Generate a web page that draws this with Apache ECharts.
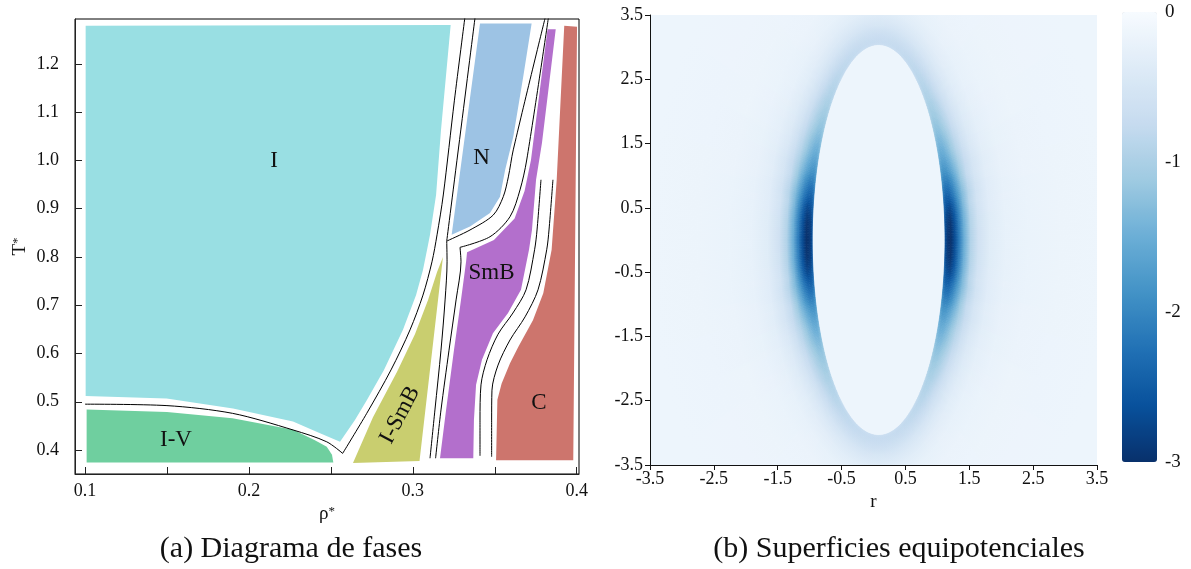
<!DOCTYPE html>
<html>
<head>
<meta charset="utf-8">
<script src="https://cdn.jsdelivr.net/npm/echarts@6/dist/echarts.min.js"></script>
<style>
html,body{margin:0;padding:0;background:#fff}
#chart{width:1191px;height:569px}
</style>
</head>
<body>
<div id="chart"></div>
<script>
// ---------------- (a) Phase diagram, outlines in (rho*, T*) ----------------
const phaseI = [[0.1004,1.279],[0.3231,1.281],[0.3172,1.063],[0.3142,0.9285],[0.3105,0.846],[0.3087,0.815],
  [0.3062,0.773],[0.302,0.721],[0.294,0.649],[0.2824,0.566],[0.2721,0.504],[0.2647,0.462],[0.2556,0.417],
  [0.2434,0.435],[0.2269,0.459],[0.1903,0.486],[0.1498,0.507],[0.1004,0.512]];
const phaseIV = [[0.101,0.484],[0.150,0.479],[0.190,0.466],[0.227,0.442],[0.240,0.421],[0.2475,0.407],
  [0.2507,0.390],[0.2515,0.374],[0.101,0.374]];
const phaseISmB = [[0.3184,0.800],[0.3041,0.377],[0.2635,0.373],[0.2757,0.468],[0.2904,0.562],[0.3013,0.640],
  [0.3093,0.711],[0.3148,0.769]];
const phaseN = [[0.341,1.284],[0.3725,1.284],[0.3674,1.174],[0.3613,1.049],[0.3563,0.980],[0.3532,0.925],
  [0.3471,0.891],[0.3349,0.863],[0.3237,0.846]];
const phaseSmB = [[0.3822,1.272],[0.3721,1.001],[0.3682,0.937],[0.3621,0.880],[0.3495,0.835],[0.3331,0.810],
  [0.3325,0.790],[0.3294,0.711],[0.3251,0.607],[0.3203,0.483],[0.3166,0.383],[0.3369,0.383],[0.3373,0.462],
  [0.3386,0.535],[0.3422,0.587],[0.3489,0.642],[0.3581,0.684],[0.3660,0.732],[0.3709,0.815],[0.3727,0.856],
  [0.3752,0.960],[0.3788,1.036],[0.3825,1.140],[0.3872,1.272]];
const phaseC = [[0.3924,1.279],[0.3878,0.960],[0.3847,0.815],[0.3796,0.725],[0.3733,0.669],[0.3644,0.614],
  [0.3593,0.580],[0.3542,0.538],[0.3516,0.504],[0.3508,0.379],[0.3979,0.379],[0.4002,1.277]];

const regionNames = ['I', 'I-V', 'I-SmB', 'N', 'SmB', 'C'];
const regionLabelAt = [[0.2153,1.0],[0.1555,0.421],[0.2922,0.4725],[0.342,1.005],[0.348,0.767],[0.377,0.497]];

// coexistence / transition lines
const lineIV = [[0.100,0.495],[0.150,0.492],[0.190,0.476],[0.227,0.4415],[0.2475,0.417],[0.2572,0.393]];
const lineIUpper = [[0.2572,0.393],[0.2719,0.476],[0.2867,0.566],[0.2983,0.649],[0.3062,0.721],[0.3117,0.790],
  [0.3148,0.846],[0.3186,0.9285],[0.3254,1.125],[0.3318,1.297]];
const lineNLeft = [[0.338,1.297],[0.3207,0.833]];
const lineNRight = [[0.3207,0.833],[0.3349,0.856],[0.3491,0.887],[0.3552,0.925],[0.3583,0.966],[0.3613,1.022],[0.3807,1.295]];
const lineISmBRight = [[0.3207,0.833],[0.3209,0.790],[0.3197,0.711],[0.3172,0.607],[0.3135,0.483],[0.3105,0.383]];
const lineSmBTop = [[0.3827,1.295],[0.3695,1.001],[0.3654,0.939],[0.3593,0.8835],[0.3471,0.842],[0.3288,0.820]];
const lineSmBLeft = [[0.3288,0.820],[0.3294,0.790],[0.3264,0.711],[0.3221,0.607],[0.3172,0.483],[0.3139,0.383]];
const lineSmBRight = [[0.3782,0.960],[0.3758,0.856],[0.3743,0.815],[0.3691,0.732],[0.3611,0.684],[0.3520,0.640],
  [0.3453,0.587],[0.3416,0.535],[0.3410,0.462],[0.3410,0.388]];
const lineCLeft = [[0.3855,0.960],[0.3831,0.856],[0.3817,0.815],[0.3764,0.732],[0.3685,0.676],[0.3593,0.628],
  [0.3520,0.576],[0.3483,0.524],[0.3481,0.462],[0.3481,0.386]];

const rhoTicks = [0.1, 0.15, 0.2, 0.25, 0.3, 0.35, 0.4];
const rhoLabels = [0.1, 0.2, 0.3, 0.4];
const tempTicks = [0.4, 0.5, 0.6, 0.7, 0.8, 0.9, 1.0, 1.1, 1.2];

// ---------------- (b) Equipotential surfaces around the ellipsoidal core ----------------
const coreCenter = [0.08, 0.0];       // (r, z)
const coreSemiAxes = [1.04, 3.04];    // (r, z)
const shellAngles = [0, 2.5, 5, 7.5, 10, 12.5, 15, 17.5, 20, 22.5, 25, 27.5, 30, 32.5, 35, 37.5, 40,
  45, 50, 55, 60, 70, 80, 90];        // degrees from the equator
const shellOffsets = [0, 0.04, 0.09, 0.15, 0.22, 0.3, 0.4, 0.52, 0.7, 0.95, 1.3, 1.8, 2.6];
const shellPotential = [
  [-2.65,-2.93,-3.00,-2.70,-2.15,-1.50,-0.95,-0.60,-0.36,-0.24,-0.19,-0.165,-0.15],
  [-2.63,-2.91,-2.98,-2.68,-2.13,-1.49,-0.94,-0.60,-0.36,-0.24,-0.19,-0.165,-0.15],
  [-2.61,-2.88,-2.95,-2.66,-2.11,-1.48,-0.93,-0.59,-0.36,-0.24,-0.19,-0.165,-0.15],
  [-2.52,-2.78,-2.85,-2.57,-2.04,-1.43,-0.91,-0.58,-0.35,-0.24,-0.19,-0.165,-0.15],
  [-2.39,-2.64,-2.70,-2.43,-1.94,-1.36,-0.86,-0.55,-0.34,-0.23,-0.19,-0.165,-0.15],
  [-2.27,-2.48,-2.46,-2.22,-1.80,-1.33,-0.89,-0.58,-0.35,-0.24,-0.19,-0.165,-0.15],
  [-2.09,-2.28,-2.27,-2.04,-1.66,-1.23,-0.83,-0.55,-0.34,-0.23,-0.18,-0.165,-0.15],
  [-1.91,-2.08,-2.07,-1.87,-1.52,-1.13,-0.76,-0.51,-0.32,-0.23,-0.18,-0.165,-0.15],
  [-1.76,-1.90,-1.85,-1.66,-1.38,-1.06,-0.76,-0.52,-0.33,-0.23,-0.18,-0.16,-0.15],
  [-1.62,-1.75,-1.70,-1.53,-1.27,-0.98,-0.71,-0.49,-0.31,-0.22,-0.18,-0.16,-0.15],
  [-1.48,-1.60,-1.56,-1.40,-1.17,-0.90,-0.66,-0.45,-0.30,-0.22,-0.18,-0.16,-0.15],
  [-1.39,-1.50,-1.46,-1.31,-1.10,-0.85,-0.62,-0.43,-0.29,-0.21,-0.17,-0.16,-0.15],
  [-1.30,-1.40,-1.36,-1.23,-1.03,-0.80,-0.59,-0.41,-0.28,-0.21,-0.17,-0.16,-0.15],
  [-1.21,-1.30,-1.27,-1.14,-0.96,-0.75,-0.55,-0.39,-0.27,-0.20,-0.17,-0.16,-0.15],
  [-1.14,-1.22,-1.19,-1.07,-0.90,-0.71,-0.53,-0.38,-0.26,-0.20,-0.17,-0.155,-0.15],
  [-1.08,-1.16,-1.13,-1.02,-0.86,-0.67,-0.50,-0.36,-0.25,-0.19,-0.17,-0.155,-0.15],
  [-1.02,-1.10,-1.07,-0.97,-0.82,-0.64,-0.48,-0.35,-0.245,-0.19,-0.167,-0.155,-0.15],
  [-0.93,-1.00,-0.97,-0.88,-0.75,-0.59,-0.45,-0.33,-0.24,-0.19,-0.165,-0.155,-0.15],
  [-0.87,-0.93,-0.91,-0.82,-0.70,-0.56,-0.43,-0.32,-0.235,-0.187,-0.164,-0.155,-0.15],
  [-0.81,-0.87,-0.85,-0.78,-0.67,-0.54,-0.42,-0.32,-0.23,-0.185,-0.164,-0.155,-0.15],
  [-0.78,-0.83,-0.81,-0.75,-0.65,-0.53,-0.42,-0.32,-0.235,-0.187,-0.164,-0.155,-0.15],
  [-0.73,-0.78,-0.76,-0.70,-0.62,-0.51,-0.42,-0.33,-0.24,-0.19,-0.165,-0.155,-0.15],
  [-0.70,-0.75,-0.73,-0.68,-0.61,-0.51,-0.42,-0.33,-0.24,-0.19,-0.165,-0.155,-0.15],
  [-0.69,-0.74,-0.72,-0.67,-0.60,-0.50,-0.42,-0.33,-0.24,-0.19,-0.165,-0.155,-0.15]
];
const farPotential = -0.15;
const rTicks = [-3.5, -2.5, -1.5, -0.5, 0.5, 1.5, 2.5, 3.5];
const zTicks = [-3.5, -2.5, -1.5, -0.5, 0.5, 1.5, 2.5, 3.5];
const potRange = [-3, 0];

// ---------------- drawing ----------------
const serif = '"Liberation Serif", "Times New Roman", serif';
const bluesRamp = ['#08306b','#08519c','#2171b5','#4292c6','#6baed6','#9ecae1','#c6dbef','#deebf7','#f7fbff'];
const potColor = v => echarts.color.lerp((v - potRange[0]) / (potRange[1] - potRange[0]), bluesRamp);

const regionOutlines = [phaseI, phaseIV, phaseISmB, phaseN, phaseSmB, phaseC];
const regionColors = ['#99dfe3', '#6fcf9f', '#c9ce6f', '#9dc3e4', '#b36fcc', '#cd756d'];
const regionLabelRotation = [0, 0, 62, 0, 0, 0];

const phaseLines = [lineIV, lineIUpper, lineNLeft, lineNRight, lineISmBRight, lineSmBTop, lineSmBLeft, lineSmBRight, lineCLeft];

const fieldCells = [];
for (let q = 0; q < 4; q++)
  for (let i = 0; i < shellAngles.length; i++)
    for (let j = 0; j < shellOffsets.length - 1; j++)
      fieldCells.push([q, i, j, shellPotential[i][j]]);

// shade a cell edge between its own sampled row and the neighbouring row, so the
// colour runs on smoothly from one sampled angle to the next
const shadeAt = (i, deg, j) => {
  const A = shellAngles;
  const k = deg < A[i] ? i - 1 : i + 1;
  if (k < 0 || k >= A.length) return shellPotential[i][j];
  const f = Math.abs(deg - A[i]) / Math.abs(A[k] - A[i]);
  return shellPotential[i][j] * (1 - f) + shellPotential[k][j] * f;
};

const chart = echarts.init(document.getElementById('chart'), null, {renderer: 'canvas'});

const axisFont = {fontFamily: serif, fontSize: 18, color: '#111'};

const option = {
  animation: false,
  backgroundColor: '#fff',
  grid: [
    {left: 75, top: 19, width: 504, height: 455, show: true, borderColor: '#000', borderWidth: 1, backgroundColor: 'transparent'},
    {left: 650, top: 15, width: 447, height: 450, show: true, borderWidth: 0, backgroundColor: potColor(farPotential)},
    {left: 1122, top: 12, width: 35, height: 450, show: false}
  ],
  xAxis: [
    {gridIndex: 0, type: 'value', min: 0.0939, max: 0.4014, z: 10,
      name: '{r|ρ}{s|*}', nameLocation: 'middle', nameGap: 27,
      nameTextStyle: {rich: {r: {fontFamily: serif, fontSize: 19, color: '#111'}, s: {fontFamily: serif, fontSize: 13, color: '#111', verticalAlign: 'top', padding: [0, 0, 6, 0]}}},
      axisLine: {onZero: false, lineStyle: {color: '#222', width: 1}},
      axisTick: {inside: true, length: 7, customValues: rhoTicks, lineStyle: {color: '#222'}},
      axisLabel: Object.assign({customValues: rhoLabels, margin: 8, formatter: v => v.toFixed(1)}, axisFont),
      splitLine: {show: false}},
    {gridIndex: 1, type: 'value', min: -3.5, max: 3.5, z: 10,
      name: 'r', nameLocation: 'middle', nameGap: 28,
      nameTextStyle: {fontFamily: serif, fontSize: 19, color: '#111'},
      axisLine: {onZero: false, lineStyle: {color: '#111', width: 1}},
      axisTick: {inside: false, length: 5, customValues: rTicks, lineStyle: {color: '#111'}},
      axisLabel: Object.assign({customValues: rTicks, margin: 5, formatter: v => v.toFixed(1)}, axisFont),
      splitLine: {show: false}},
    {gridIndex: 2, type: 'value', min: 0, max: 1, show: false}
  ],
  yAxis: [
    {gridIndex: 0, type: 'value', min: 0.3503, max: 1.2932, z: 10,
      name: '{t|T}{s|*}', nameLocation: 'middle', nameGap: 45, nameRotate: 90,
      nameTextStyle: {rich: {t: {fontFamily: serif, fontSize: 19, color: '#111'}, s: {fontFamily: serif, fontSize: 13, color: '#111', verticalAlign: 'top', padding: [0, 0, 6, 0]}}},
      axisLine: {onZero: false, lineStyle: {color: '#222', width: 1}},
      axisTick: {inside: true, length: 7, customValues: tempTicks, lineStyle: {color: '#222'}},
      axisLabel: Object.assign({customValues: tempTicks, margin: 16, formatter: v => v.toFixed(1)}, axisFont),
      splitLine: {show: false}},
    {gridIndex: 1, type: 'value', min: -3.5, max: 3.5, z: 10,
      axisLine: {onZero: false, lineStyle: {color: '#111', width: 1}},
      axisTick: {inside: false, length: 5, customValues: zTicks, lineStyle: {color: '#111'}},
      axisLabel: Object.assign({customValues: zTicks, margin: 7, formatter: v => v.toFixed(1)}, axisFont),
      splitLine: {show: false}},
    {gridIndex: 2, type: 'value', min: potRange[0], max: potRange[1], interval: 1, position: 'right',
      axisLine: {show: false}, axisTick: {show: false}, splitLine: {show: false},
      axisLabel: Object.assign({margin: 8}, axisFont, {fontSize: 19})}
  ],
  visualMap: [{
    type: 'continuous', min: potRange[0], max: potRange[1], seriesIndex: 0, dimension: 3,
    left: 1122, top: 12, itemWidth: 35, itemHeight: 450, padding: 0, calculable: false,
    hoverLink: false, showLabel: false, inRange: {color: bluesRamp}
  }],
  series: [
    {
      type: 'custom', xAxisIndex: 1, yAxisIndex: 1, clip: true, silent: true, z: 1,
      data: fieldCells,
      renderItem: (params, api) => {
        const q = api.value(0), i = api.value(1), j = api.value(2);
        const sx = (q & 1) ? -1 : 1, sy = (q & 2) ? -1 : 1;
        const A = shellAngles;
        const t0 = i === 0 ? 0 : (A[i - 1] + A[i]) / 2;
        const t1 = i === A.length - 1 ? 90 : (A[i] + A[i + 1]) / 2;
        const s0 = shellOffsets[j], s1 = shellOffsets[j + 1];
        const at = (deg, s) => {
          const t = deg * Math.PI / 180;
          return api.coord([coreCenter[0] + sx * (coreSemiAxes[0] + s) * Math.cos(t),
                            coreCenter[1] + sy * (coreSemiAxes[1] + s) * Math.sin(t)]);
        };
        // the cell is painted as thin wedges so each radial gradient follows the arc
        const m = Math.max(1, Math.ceil((t1 - t0) / 0.6));
        const children = [];
        for (let w = 0; w < m; w++) {
          const u0 = t0 + (t1 - t0) * w / m, u1 = t0 + (t1 - t0) * (w + 1) / m;
          const pts = [at(u0, s0), at(u1, s0), at(u1, s1), at(u0, s1)];
          const um = (u0 + u1) / 2, a = at(um, s0), b = at(um, s1);
          const grad = new echarts.graphic.LinearGradient(a[0], a[1], b[0], b[1], [
            {offset: 0, color: potColor(shadeAt(i, um, j))},
            {offset: 1, color: potColor(shadeAt(i, um, j + 1))}
          ], true);
          children.push({type: 'polygon', shape: {points: pts}, style: {fill: grad, stroke: grad, lineWidth: 0.7}});
        }
        return {type: 'group', children};
      }
    },
    {
      type: 'custom', xAxisIndex: 0, yAxisIndex: 0, clip: true, silent: true, z: 2,
      data: regionLabelAt,
      renderItem: (params, api) => {
        const k = params.dataIndex;
        const at = api.coord([api.value(0), api.value(1)]);
        return {type: 'group', children: [
          {type: 'polygon', shape: {points: regionOutlines[k].map(p => api.coord(p))}, style: {fill: regionColors[k]}},
          {type: 'text', x: at[0], y: at[1], rotation: regionLabelRotation[k] * Math.PI / 180,
            style: {text: regionNames[k], fill: '#111', font: '23px ' + serif, align: 'center', verticalAlign: 'middle'}}
        ]};
      }
    }
  ].concat(phaseLines.map(pts => ({
    type: 'line', xAxisIndex: 0, yAxisIndex: 0, data: pts, symbol: 'none', smooth: 0.3,
    silent: true, z: 3, clip: true, lineStyle: {color: '#000', width: 1}
  }))),
  graphic: [
    {type: 'text', x: 291, y: 549, style: {text: '(a) Diagrama de fases', font: '30px ' + serif, fill: '#111', align: 'center', verticalAlign: 'middle'}},
    {type: 'text', x: 899, y: 549, style: {text: '(b) Superficies equipotenciales', font: '30px ' + serif, fill: '#111', align: 'center', verticalAlign: 'middle'}}
  ]
};

chart.setOption(option);
</script>
</body>
</html>
